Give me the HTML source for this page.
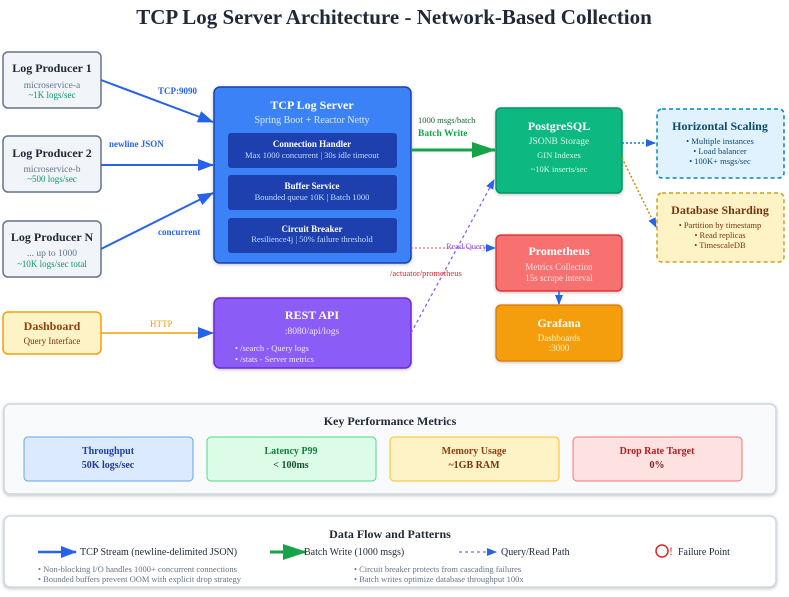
<!DOCTYPE html>
<html><head><meta charset="utf-8"><style>
body{margin:0;background:#fff;}
svg{display:block;font-family:"Liberation Serif",serif;}
</style></head><body>
<svg width="789" height="597" viewBox="0 0 789 597" xmlns="http://www.w3.org/2000/svg">
<defs>
<marker id="ab" markerWidth="10" markerHeight="8" refX="9" refY="4" orient="auto" markerUnits="userSpaceOnUse"><path d="M0,0 L10,4 L0,8Z" fill="#2563eb"/></marker>
<marker id="abL" markerWidth="16" markerHeight="12" refX="15" refY="6" orient="auto" markerUnits="userSpaceOnUse"><path d="M0,0 L16,6 L0,12Z" fill="#2563eb"/></marker>
<marker id="ag" markerWidth="24" markerHeight="16" refX="23" refY="8" orient="auto" markerUnits="userSpaceOnUse"><path d="M0,0 L24,8 L0,16Z" fill="#16a34a"/></marker>
<filter id="sh"><feDropShadow dx="0" dy="1" stdDeviation="1.5" flood-opacity="0.25"/></filter>
</defs>
<text x="394" y="24" text-anchor="middle" font-size="21" font-weight="bold" fill="#1f2937">TCP Log Server Architecture - Network-Based Collection</text>

<!-- producers -->
<g font-size="12" text-anchor="middle">
<rect x="3" y="52" width="98" height="56" rx="5" fill="#f1f5f9" stroke="#64748b" stroke-width="1.5"/>
<text x="52" y="72" font-weight="bold" fill="#1f2937">Log Producer 1</text>
<text x="52" y="88" font-size="9.5" fill="#64748b">microservice-a</text>
<text x="52" y="98" font-size="9" fill="#059669">~1K logs/sec</text>
<rect x="3" y="136" width="98" height="56" rx="5" fill="#f1f5f9" stroke="#64748b" stroke-width="1.5"/>
<text x="52" y="157" font-weight="bold" fill="#1f2937">Log Producer 2</text>
<text x="52" y="172" font-size="9.5" fill="#64748b">microservice-b</text>
<text x="52" y="182" font-size="9" fill="#059669">~500 logs/sec</text>
<rect x="3" y="221" width="98" height="56" rx="5" fill="#f1f5f9" stroke="#64748b" stroke-width="1.5"/>
<text x="52" y="241" font-weight="bold" fill="#1f2937">Log Producer N</text>
<text x="52" y="256" font-size="9.5" fill="#64748b">... up to 1000</text>
<text x="52" y="267" font-size="9" fill="#059669">~10K logs/sec total</text>
<rect x="3" y="312" width="98" height="42" rx="5" fill="#fef3c7" stroke="#f59e0b" stroke-width="1.5"/>
<text x="52" y="330" font-weight="bold" fill="#92400e">Dashboard</text>
<text x="52" y="344" font-size="9" fill="#78350f">Query Interface</text>
</g>

<!-- arrows from producers -->
<g stroke="#2563eb" stroke-width="2" fill="none">
<line x1="101" y1="80" x2="213" y2="122" marker-end="url(#abL)"/>
<line x1="101" y1="165" x2="213" y2="165" marker-end="url(#abL)"/>
<line x1="101" y1="249" x2="213" y2="193" marker-end="url(#abL)"/>
</g>
<line x1="101" y1="333" x2="213" y2="333" stroke="#f59e0b" stroke-width="1.5" marker-end="url(#abL)"/>
<g font-size="9" font-weight="bold" fill="#2563eb">
<text x="158" y="94">TCP:9090</text>
<text x="109" y="147">newline JSON</text>
<text x="158" y="235">concurrent</text>
</g>
<text x="150" y="327" font-size="9" fill="#f59e0b">HTTP</text>

<!-- TCP server -->
<rect x="214" y="87" width="197" height="176" rx="6" fill="#3b82f6" stroke="#1e40af" stroke-width="1.5" filter="url(#sh)"/>
<g text-anchor="middle" fill="#fff">
<text x="312" y="109" font-size="12" font-weight="bold">TCP Log Server</text>
<text x="312" y="123" font-size="10" fill="#dbeafe">Spring Boot + Reactor Netty</text>
<rect x="228" y="133" width="169" height="35" rx="3" fill="#1e40af"/>
<rect x="228" y="175" width="169" height="35" rx="3" fill="#1e40af"/>
<rect x="228" y="218" width="169" height="35" rx="3" fill="#1e40af"/>
<text x="312" y="147" font-size="9" font-weight="bold">Connection Handler</text>
<text x="312" y="158" font-size="8.5" fill="#bfdbfe">Max 1000 concurrent | 30s idle timeout</text>
<text x="312" y="189" font-size="9" font-weight="bold">Buffer Service</text>
<text x="312" y="200" font-size="8.5" fill="#bfdbfe">Bounded queue 10K | Batch 1000</text>
<text x="312" y="232" font-size="9" font-weight="bold">Circuit Breaker</text>
<text x="312" y="242" font-size="8.5" fill="#bfdbfe">Resilience4j | 50% failure threshold</text>
</g>

<!-- REST API -->
<rect x="214" y="298" width="197" height="70" rx="6" fill="#8b5cf6" stroke="#6d28d9" stroke-width="1.5" filter="url(#sh)"/>
<g fill="#fff">
<text x="312" y="319" font-size="12" font-weight="bold" text-anchor="middle">REST API</text>
<text x="312" y="334" font-size="9.5" text-anchor="middle" fill="#ede9fe">:8080/api/logs</text>
<text x="235" y="351" font-size="8.5" fill="#ede9fe">• /search - Query logs</text>
<text x="235" y="362" font-size="8.5" fill="#ede9fe">• /stats - Server metrics</text>
</g>

<!-- batch write -->
<line x1="411" y1="150" x2="495" y2="150" stroke="#16a34a" stroke-width="3" marker-end="url(#ag)"/>
<text x="418" y="123" font-size="8.5" fill="#166534">1000 msgs/batch</text>
<text x="418" y="136" font-size="9.5" font-weight="bold" fill="#16a34a">Batch Write</text>

<!-- postgres -->
<rect x="496" y="108" width="126" height="85" rx="5" fill="#10b981" stroke="#059669" stroke-width="1.5" filter="url(#sh)"/>
<g text-anchor="middle" fill="#fff">
<text x="559" y="130" font-size="12" font-weight="bold">PostgreSQL</text>
<text x="559" y="144" font-size="9.5" fill="#d1fae5">JSONB Storage</text>
<text x="559" y="158" font-size="8.5" fill="#d1fae5">GIN Indexes</text>
<text x="559" y="172" font-size="8.5" fill="#d1fae5">~10K inserts/sec</text>
</g>
<!-- prometheus -->
<rect x="496" y="235" width="126" height="56" rx="5" fill="#f87171" stroke="#dc2626" stroke-width="1.2" filter="url(#sh)"/>
<g text-anchor="middle" fill="#fff">
<text x="559" y="255" font-size="12" font-weight="bold">Prometheus</text>
<text x="559" y="270" font-size="9" fill="#fee2e2">Metrics Collection</text>
<text x="559" y="281" font-size="9" fill="#fee2e2">15s scrape interval</text>
</g>
<!-- grafana -->
<rect x="496" y="305" width="126" height="56" rx="5" fill="#f59e0b" stroke="#d97706" stroke-width="1.2" filter="url(#sh)"/>
<g text-anchor="middle" fill="#fff">
<text x="559" y="327" font-size="12" font-weight="bold">Grafana</text>
<text x="559" y="341" font-size="9" fill="#fef3c7">Dashboards</text>
<text x="559" y="351" font-size="9" fill="#fef3c7">:3000</text>
</g>
<line x1="559" y1="291" x2="559" y2="304" stroke="#2563eb" stroke-width="1.5" marker-end="url(#ab)"/>

<!-- scaling -->
<rect x="657" y="109" width="127" height="69" rx="5" fill="#e0f2fe" stroke="#0284c7" stroke-width="1.5" stroke-dasharray="4,3"/>
<g text-anchor="middle" fill="#0c4a6e">
<text x="720" y="130" font-size="12" font-weight="bold">Horizontal Scaling</text>
<text x="720" y="144" font-size="8.5">• Multiple instances</text>
<text x="720" y="154" font-size="8.5">• Load balancer</text>
<text x="720" y="164" font-size="8.5">• 100K+ msgs/sec</text>
</g>
<rect x="657" y="193" width="127" height="69" rx="5" fill="#fef3c7" stroke="#d4a017" stroke-width="1.5" stroke-dasharray="4,3"/>
<g text-anchor="middle" fill="#78350f">
<text x="720" y="214" font-size="12" font-weight="bold">Database Sharding</text>
<text x="720" y="228" font-size="8.5">• Partition by timestamp</text>
<text x="720" y="238" font-size="8.5">• Read replicas</text>
<text x="720" y="248" font-size="8.5">• TimescaleDB</text>
</g>
<line x1="622" y1="143" x2="655" y2="143" stroke="#0284c7" stroke-width="1.5" stroke-dasharray="2,2" marker-end="url(#ab)"/>
<line x1="622" y1="158" x2="656" y2="227" stroke="#ca8a04" stroke-width="1.5" stroke-dasharray="2,2" marker-end="url(#ab)"/>

<!-- dashed connectors -->
<line x1="411" y1="248" x2="495" y2="248" stroke="#ef4444" stroke-width="1" stroke-dasharray="2,2" marker-end="url(#ab)"/>
<text x="390" y="276" font-size="8.5" fill="#dc2626">/actuator/prometheus</text>
<line x1="411" y1="333" x2="494" y2="180" stroke="#8b5cf6" stroke-width="1.3" stroke-dasharray="3,3" marker-end="url(#ab)"/>
<text x="446" y="249" font-size="8.5" fill="#8b5cf6">Read Query</text>

<!-- metrics panel -->
<rect x="4" y="404" width="772" height="90" rx="6" fill="#f8fafc" stroke="#cbd5e1" stroke-width="1.5" filter="url(#sh)"/>
<text x="390" y="425" font-size="12" font-weight="bold" text-anchor="middle" fill="#1f2937">Key Performance Metrics</text>
<g text-anchor="middle" font-weight="bold">
<rect x="24" y="437" width="169" height="44" rx="4" fill="#dbeafe" stroke="#60a5fa"/>
<text x="108" y="454" font-size="10" fill="#1e40af">Throughput</text>
<text x="108" y="468" font-size="10" fill="#1e3a8a">50K logs/sec</text>
<rect x="207" y="437" width="169" height="44" rx="4" fill="#dcfce7" stroke="#4ade80"/>
<text x="291" y="454" font-size="10" fill="#15803d">Latency P99</text>
<text x="291" y="468" font-size="10" fill="#14532d">&lt; 100ms</text>
<rect x="390" y="437" width="169" height="44" rx="4" fill="#fef3c7" stroke="#fbbf24"/>
<text x="474" y="454" font-size="10" fill="#92400e">Memory Usage</text>
<text x="474" y="468" font-size="10" fill="#78350f">~1GB RAM</text>
<rect x="573" y="437" width="169" height="44" rx="4" fill="#fee2e2" stroke="#f87171"/>
<text x="657" y="454" font-size="10" fill="#b91c1c">Drop Rate Target</text>
<text x="657" y="468" font-size="10" fill="#7f1d1d">0%</text>
</g>

<!-- legend panel -->
<rect x="4" y="516" width="772" height="71" rx="6" fill="#fff" stroke="#cbd5e1" stroke-width="1.5" filter="url(#sh)"/>
<text x="390" y="538" font-size="12" font-weight="bold" text-anchor="middle" fill="#1f2937">Data Flow and Patterns</text>
<line x1="38" y1="552" x2="76" y2="552" stroke="#2563eb" stroke-width="2.5" marker-end="url(#abL)"/>
<text x="80" y="555" font-size="10" fill="#1f2937">TCP Stream (newline-delimited JSON)</text>
<line x1="270" y1="552" x2="306" y2="552" stroke="#16a34a" stroke-width="3" marker-end="url(#ag)"/>
<text x="304" y="555" font-size="10" fill="#1f2937">Batch Write (1000 msgs)</text>
<line x1="459" y1="552" x2="496" y2="552" stroke="#8b5cf6" stroke-width="1.3" stroke-dasharray="3,3" marker-end="url(#ab)"/>
<text x="501" y="555" font-size="10" fill="#1f2937">Query/Read Path</text>
<circle cx="662" cy="551" r="6" fill="none" stroke="#dc2626" stroke-width="1.5"/>
<text x="669" y="555" font-size="12" fill="#dc2626">!</text>
<text x="678" y="555" font-size="10" fill="#1f2937">Failure Point</text>
<g font-size="8.5" fill="#64748b">
<text x="38" y="572">• Non-blocking I/O handles 1000+ concurrent connections</text>
<text x="38" y="582">• Bounded buffers prevent OOM with explicit drop strategy</text>
<text x="354" y="572">• Circuit breaker protects from cascading failures</text>
<text x="354" y="582">• Batch writes optimize database throughput 100x</text>
</g>
</svg>
</body></html>
